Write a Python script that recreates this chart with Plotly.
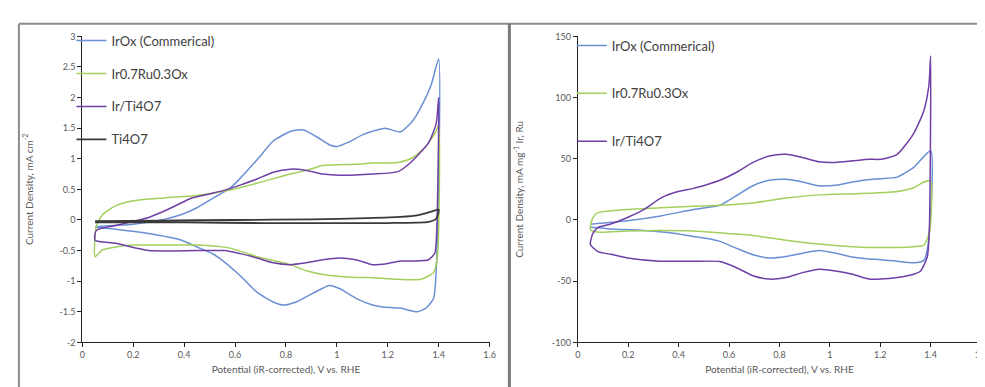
import plotly.graph_objects as go

# ---------------- data ----------------
x_ticks = [0, 0.2, 0.4, 0.6, 0.8, 1.0, 1.2, 1.4, 1.6]
x_tick_text = ["0", "0.2", "0.4", "0.6", "0.8", "1", "1.2", "1.4", "1.6"]
yl_ticks = [-2, -1.5, -1, -0.5, 0, 0.5, 1, 1.5, 2, 2.5, 3]
yl_tick_text = ["-2", "-1.5", "-1", "-0.5", "0", "0.5", "1", "1.5", "2", "2.5", "3"]
yr_ticks = [-100, -50, 0, 50, 100, 150]
yr_tick_text = ["-100", "-50", "0", "50", "100", "150"]

names = ["IrOx (Commerical)", "Ir0.7Ru0.3Ox", "Ir/Ti4O7", "Ti4O7"]

# Left panel: geometric current density (mA cm-2)
irox_l_fwd_v = [0.05, 0.12, 0.20, 0.32, 0.39, 0.45, 0.515, 0.58, 0.62, 0.69, 0.75, 0.82, 0.87, 0.92, 0.97, 1.00, 1.05, 1.10, 1.14, 1.19, 1.25, 1.30, 1.34, 1.37, 1.40]
irox_l_fwd_j = [-0.11, -0.09, -0.07, 0.01, 0.09, 0.20, 0.36, 0.52, 0.68, 1.00, 1.29, 1.45, 1.47, 1.36, 1.23, 1.20, 1.28, 1.39, 1.45, 1.50, 1.44, 1.63, 1.92, 2.20, 2.63]
irox_l_rev_v = [1.392, 1.38, 1.35, 1.315, 1.25, 1.18, 1.14, 1.075, 1.01, 0.97, 0.905, 0.84, 0.79, 0.75, 0.686, 0.62, 0.556, 0.515, 0.45, 0.39, 0.26, 0.13, 0.05]
irox_l_rev_j = [-0.65, -1.28, -1.44, -1.50, -1.44, -1.42, -1.39, -1.28, -1.12, -1.07, -1.20, -1.34, -1.39, -1.34, -1.18, -0.91, -0.68, -0.56, -0.44, -0.33, -0.22, -0.15, -0.12]

irru_l_fwd_v = [0.05, 0.055, 0.08, 0.13, 0.195, 0.32, 0.45, 0.58, 0.686, 0.816, 0.88, 0.945, 1.075, 1.14, 1.24, 1.29, 1.33, 1.36, 1.39, 1.40]
irru_l_fwd_j = [-0.60, -0.10, 0.09, 0.23, 0.31, 0.36, 0.40, 0.49, 0.60, 0.75, 0.81, 0.89, 0.91, 0.93, 0.94, 1.00, 1.12, 1.26, 1.45, 1.55]
irru_l_rev_v = [1.395, 1.38, 1.33, 1.24, 1.12, 1.075, 0.945, 0.88, 0.816, 0.686, 0.58, 0.45, 0.32, 0.195, 0.13, 0.078, 0.05]
irru_l_rev_j = [-0.60, -0.86, -0.97, -0.97, -0.94, -0.94, -0.89, -0.83, -0.73, -0.60, -0.46, -0.41, -0.41, -0.41, -0.44, -0.49, -0.60]

irti_l_fwd_v = [0.05, 0.055, 0.13, 0.26, 0.35, 0.43, 0.515, 0.57, 0.62, 0.686, 0.75, 0.816, 0.88, 0.945, 1.01, 1.14, 1.24, 1.29, 1.36, 1.39, 1.40]
irti_l_fwd_j = [-0.33, -0.17, -0.09, 0.04, 0.20, 0.36, 0.44, 0.50, 0.57, 0.67, 0.78, 0.83, 0.81, 0.75, 0.73, 0.75, 0.79, 0.94, 1.26, 1.57, 2.00]
irti_l_rev_v = [1.392, 1.385, 1.36, 1.30, 1.25, 1.19, 1.14, 1.075, 1.01, 0.945, 0.88, 0.816, 0.75, 0.686, 0.62, 0.56, 0.45, 0.26, 0.13, 0.05]
irti_l_rev_j = [-0.22, -0.54, -0.65, -0.67, -0.67, -0.72, -0.73, -0.65, -0.62, -0.65, -0.70, -0.73, -0.70, -0.62, -0.55, -0.50, -0.50, -0.50, -0.38, -0.33]

ti_l_fwd_v = [0.05, 0.30, 0.60, 0.90, 1.12, 1.25, 1.32, 1.38, 1.40]
ti_l_fwd_j = [-0.02, -0.01, 0.00, 0.01, 0.03, 0.05, 0.08, 0.15, 0.17]
ti_l_rev_v = [1.39, 1.36, 1.20, 1.00, 0.70, 0.40, 0.05]
ti_l_rev_j = [0.02, -0.03, -0.05, -0.05, -0.05, -0.04, -0.04]

# Right panel: mass activity (mA mg-1 Ir, Ru)
irox_r_fwd_v = [0.05, 0.197, 0.329, 0.46, 0.564, 0.63, 0.695, 0.76, 0.826, 0.892, 0.958, 1.023, 1.09, 1.156, 1.202, 1.267, 1.333, 1.40]
irox_r_fwd_j = [-3.5, -0.7, 3.3, 8.6, 12.0, 20.0, 28.0, 32.4, 33.2, 31.0, 27.9, 28.4, 31.0, 33.0, 33.7, 35.0, 43.0, 56.5]
irox_r_rev_v = [1.39, 1.373, 1.333, 1.267, 1.202, 1.156, 1.09, 1.023, 0.958, 0.892, 0.826, 0.76, 0.695, 0.63, 0.564, 0.526, 0.46, 0.394, 0.263, 0.131, 0.05]
irox_r_rev_j = [-20.0, -33.0, -35.0, -33.7, -32.4, -31.9, -30.3, -27.1, -25.0, -27.1, -29.8, -31.0, -28.4, -23.2, -17.5, -15.5, -13.5, -11.2, -8.6, -7.3, -6.0]

irru_r_fwd_v = [0.05, 0.06, 0.08, 0.197, 0.329, 0.46, 0.564, 0.695, 0.826, 0.958, 1.09, 1.156, 1.267, 1.333, 1.373, 1.40]
irru_r_fwd_j = [-8.0, 2.0, 6.0, 8.6, 9.9, 11.2, 12.0, 13.9, 17.9, 20.5, 21.3, 21.8, 23.2, 26.3, 31.0, 32.0]
irru_r_rev_v = [1.395, 1.373, 1.333, 1.267, 1.156, 1.09, 0.958, 0.826, 0.695, 0.564, 0.46, 0.329, 0.197, 0.08, 0.05]
irru_r_rev_j = [-10.0, -20.5, -21.8, -22.4, -22.4, -21.8, -19.7, -16.5, -12.6, -10.5, -9.0, -8.6, -9.1, -9.9, -8.0]

irti_r_fwd_v = [0.05, 0.06, 0.08, 0.131, 0.197, 0.263, 0.329, 0.394, 0.46, 0.526, 0.564, 0.63, 0.695, 0.76, 0.826, 0.892, 0.958, 1.023, 1.09, 1.156, 1.202, 1.267, 1.333, 1.373, 1.393, 1.40]
irti_r_fwd_j = [-20.0, -11.0, -6.0, -3.3, 2.0, 8.6, 17.9, 23.0, 25.8, 29.8, 32.4, 39.0, 47.0, 52.2, 53.6, 51.0, 47.5, 47.0, 48.3, 49.6, 49.6, 53.6, 70.8, 89.3, 110.0, 134.0]
irti_r_rev_v = [1.395, 1.387, 1.36, 1.333, 1.267, 1.202, 1.156, 1.09, 1.023, 0.958, 0.892, 0.826, 0.76, 0.695, 0.63, 0.564, 0.46, 0.329, 0.197, 0.131, 0.08, 0.05]
irti_r_rev_j = [-6.0, -29.8, -41.7, -44.3, -47.0, -48.3, -48.3, -44.3, -41.7, -40.3, -43.0, -47.0, -48.3, -45.6, -39.0, -34.0, -33.7, -33.7, -31.0, -28.0, -25.8, -20.0]

colors = ["#6b8fd4", "#a3d05c", "#6f3fa6", "#3a3a3a"]

# ---------------- figure ----------------
FONT = "Lato, 'Open Sans', sans-serif"
TICK_COLOR = "#595959"

fig = go.Figure()

left_series = [
    (irox_l_fwd_v, irox_l_fwd_j, irox_l_rev_v, irox_l_rev_j),
    (irru_l_fwd_v, irru_l_fwd_j, irru_l_rev_v, irru_l_rev_j),
    (irti_l_fwd_v, irti_l_fwd_j, irti_l_rev_v, irti_l_rev_j),
    (ti_l_fwd_v, ti_l_fwd_j, ti_l_rev_v, ti_l_rev_j),
]
right_series = [
    (irox_r_fwd_v, irox_r_fwd_j, irox_r_rev_v, irox_r_rev_j),
    (irru_r_fwd_v, irru_r_fwd_j, irru_r_rev_v, irru_r_rev_j),
    (irti_r_fwd_v, irti_r_fwd_j, irti_r_rev_v, irti_r_rev_j),
]

for i, (fv, fj, rv, rj) in enumerate(left_series):
    fig.add_trace(go.Scatter(
        x=fv + rv, y=fj + rj, mode="lines", name=names[i],
        line=dict(color=colors[i], width=1.8 if i == 3 else 1.5, shape="spline", smoothing=0.6),
        xaxis="x", yaxis="y", legend="legend", legendgroup="L%d" % i,
    ))

for i, (fv, fj, rv, rj) in enumerate(right_series):
    fig.add_trace(go.Scatter(
        x=fv + rv, y=fj + rj, mode="lines", name=names[i],
        line=dict(color=colors[i], width=1.5, shape="spline", smoothing=0.6),
        xaxis="x2", yaxis="y2", legend="legend2", legendgroup="R%d" % i,
    ))

ydom = [49 / 387, 364 / 387]
axis_common = dict(
    showgrid=False, zeroline=False, showline=True, linecolor="#222", linewidth=1.2,
    ticks="outside", ticklen=4, tickcolor="#222", tickwidth=1,
    tickfont=dict(family=FONT, size=9, color=TICK_COLOR),
)
xtitle = "Potential (iR-corrected), V vs. RHE"

fig.update_layout(
    width=985, height=387,
    margin=dict(l=0, r=0, t=0, b=0),
    paper_bgcolor="white", plot_bgcolor="white",
    font=dict(family=FONT, color="#404040"),
    xaxis=dict(domain=[72 / 985, 483 / 985], range=[0, 1.6], tickvals=x_ticks, ticktext=x_tick_text,
               anchor="y", title=dict(text=xtitle, font=dict(family=FONT, size=10, color=TICK_COLOR), standoff=6),
               **axis_common),
    yaxis=dict(domain=ydom, range=[-2, 3], tickvals=yl_ticks, ticktext=yl_tick_text, anchor="x",
               title=dict(text="Current Density, mA cm<sup>-2</sup>", font=dict(family=FONT, size=10, color=TICK_COLOR), standoff=24),
               **axis_common),
    xaxis2=dict(domain=[572 / 985, 979 / 985], range=[0, 1.6], tickvals=x_ticks, ticktext=x_tick_text,
                anchor="y2", title=dict(text=xtitle, font=dict(family=FONT, size=10, color=TICK_COLOR), standoff=6),
                **axis_common),
    yaxis2=dict(domain=ydom, range=[-100, 150], tickvals=yr_ticks, ticktext=yr_tick_text, anchor="x2",
                title=dict(text="Current Density, mA mg<sup>-1</sup> Ir, Ru", font=dict(family=FONT, size=10, color=TICK_COLOR), standoff=26),
                **axis_common),
    legend=dict(x=61 / 985, y=1 - 12 / 387, xanchor="left", yanchor="top",
                bgcolor="rgba(0,0,0,0)", font=dict(family=FONT, size=13, color="#404040"),
                tracegroupgap=13, itemwidth=30),
    legend2=dict(x=566 / 985, y=1 - 17 / 387, xanchor="left", yanchor="top",
                 bgcolor="rgba(0,0,0,0)", font=dict(family=FONT, size=13, color="#404040"),
                 tracegroupgap=28, itemwidth=30),
    showlegend=True,
    shapes=[
        dict(type="line", xref="paper", yref="paper", x0=8 / 985, x1=1, y0=1 - 10 / 387, y1=1 - 10 / 387,
             line=dict(color="#8c8c8c", width=2)),
        dict(type="line", xref="paper", yref="paper", x0=8 / 985, x1=8 / 985, y0=0, y1=1 - 10 / 387,
             line=dict(color="#8c8c8c", width=2)),
        dict(type="line", xref="paper", yref="paper", x0=503 / 985, x1=503 / 985, y0=0, y1=1 - 10 / 387,
             line=dict(color="#7a7a7a", width=3)),
    ],
)

fig.write_html("out.html")
